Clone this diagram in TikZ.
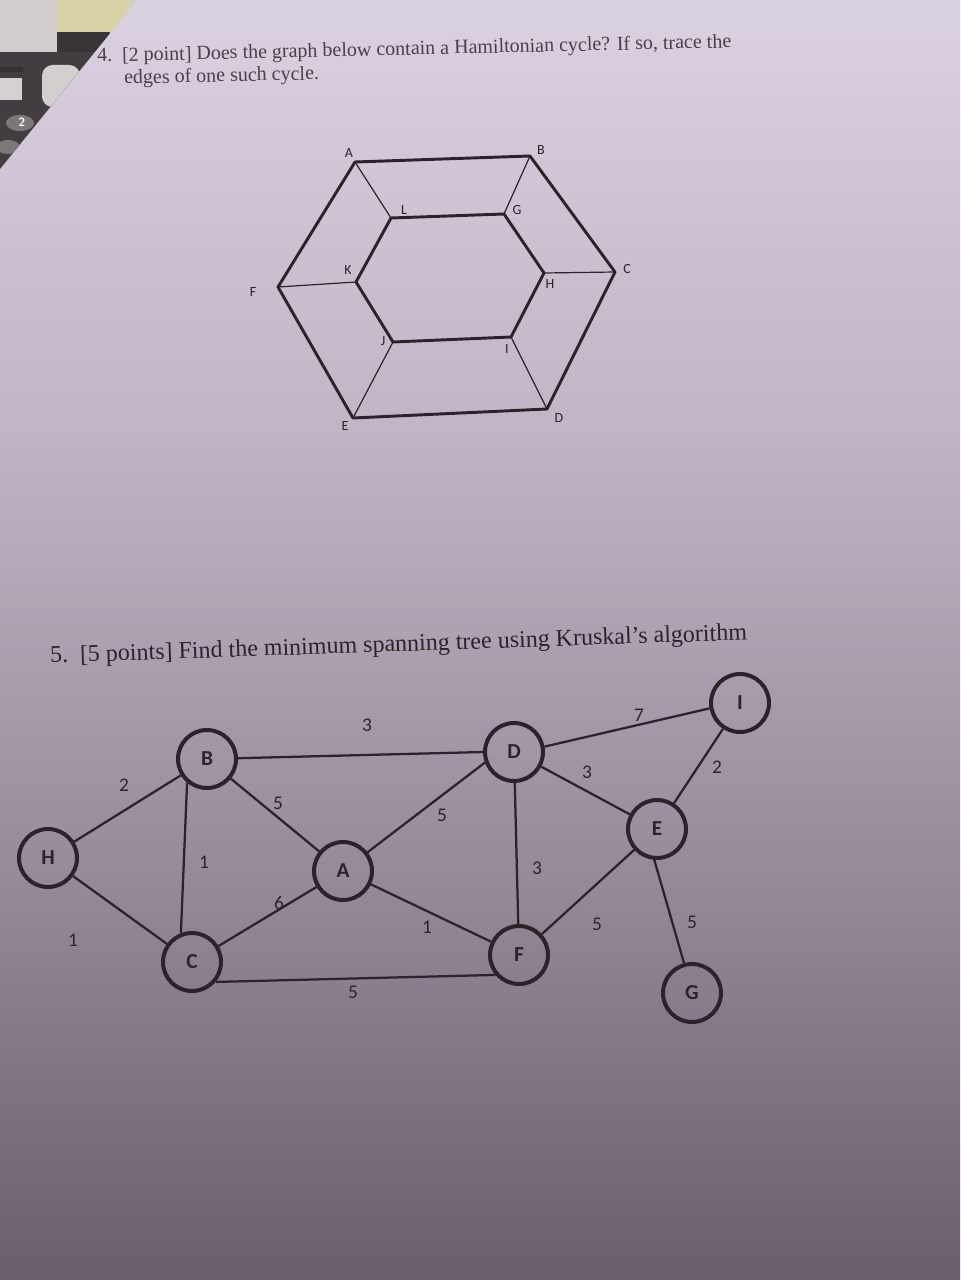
\documentclass[tikz,border=0pt]{standalone}
\usepackage{fontspec}
\setmainfont{Liberation Serif}
\newfontfamily\graphfont{Carlito}
\usetikzlibrary{positioning}
\definecolor{ink}{HTML}{2B2329}
\definecolor{greyink}{HTML}{4A4048}
\definecolor{ptop}{HTML}{DAD1E1}
\definecolor{pmid}{HTML}{C1B4C4}
\definecolor{plow}{HTML}{948897}
\definecolor{pbot}{HTML}{685E6C}
\definecolor{desk}{HTML}{D2CCCC}
\definecolor{note}{HTML}{D8D3A6}
\definecolor{calc}{HTML}{433D41}
\pgfdeclareverticalshading{paper}{100bp}{color(0bp)=(pbot); color(25bp)=(pbot); color(40bp)=(plow); color(58bp)=(pmid); color(75bp)=(ptop); color(100bp)=(ptop)}
\tikzset{
  hexedge/.style={draw=ink, line width=2.2pt, line join=round},
  spoke/.style={draw=ink, line width=0.9pt},
  hexlabel/.style={text=ink, inner sep=0.5pt, font=\graphfont\fontsize{10.5}{10.5}\selectfont},
  vert/.style={circle, draw=ink, line width=3pt, minimum size=43.5pt, inner sep=0pt, text=ink, font=\graphfont\bfseries\fontsize{16}{16}\selectfont},
  wedge/.style={draw=ink, line width=1.7pt},
  weight/.style={text=ink, inner sep=0.5pt, font=\graphfont\fontsize{14.5}{14.5}\selectfont},
}
\begin{document}
\begin{tikzpicture}[x=0.75pt,y=0.75pt,yscale=-1]
\useasboundingbox (0,0) rectangle (960,1280);

% paper
\shade[shading=paper] (0,0) rectangle (960,1280);

% desk, note and calculator behind the sheet
\begin{scope}
\clip (0,0) -- (137,0) -- (0,169) -- cycle;
\fill[desk] (0,0) rectangle (140,170);
\fill[note] (57,0) rectangle (130,32);
\fill[calc!85!black] (57,32) rectangle (110,52);
\fill[calc] (0,52) rectangle (140,170);
\fill[black!80] (0,67) rectangle (23,72);
\fill[desk!90!white] (0,78) rectangle (22,100);
\fill[desk!95!white, rounded corners=8pt] (42,65) rectangle (80,107);
\fill[calc!70!white] (20,123) ellipse (14 and 8);
\node[text=white, font=\sffamily\bfseries\small] at (22,122) {2};
\fill[calc!70!white] (8,147) ellipse (12 and 7);
\end{scope}

% question 4
\node[anchor=base west, rotate=1.3, text=greyink, inner sep=0pt, font=\fontsize{15}{18}\selectfont] (q4a) at (97,62)
  {4.\enspace [2 point] Does the graph below contain a Hamiltonian cycle? If so, trace the};
\node[anchor=base west, rotate=1.3, text=greyink, inner sep=0pt, font=\fontsize{15}{18}\selectfont] (q4b) at (124,84)
  {edges of one such cycle.};

% hexagon graph
\coordinate (A) at (355,162);
\coordinate (B) at (530,156);
\coordinate (C) at (615,272);
\coordinate (D) at (547,409);
\coordinate (E) at (353,418);
\coordinate (F) at (278,287);
\coordinate (L) at (391,218);
\coordinate (G) at (504,214);
\coordinate (H) at (544,273);
\coordinate (I) at (511,337);
\coordinate (J) at (393,342);
\coordinate (K) at (356,282);
\foreach \o/\i in {A/L,B/G,C/H,D/I,E/J,F/K}
  \draw[spoke] (\o) -- (\i);
\draw[hexedge] (A) -- (B) -- (C) -- (D) -- (E) -- (F) -- cycle;
\draw[hexedge] (L) -- (G) -- (H) -- (I) -- (J) -- (K) -- cycle;

\node[hexlabel] (lA) at (349,153) {A};
\node[hexlabel] (lB) at (541,150) {B};
\node[hexlabel] (lC) at (627,269) {C};
\node[hexlabel] (lD) at (559,418) {D};
\node[hexlabel] (lE) at (345,426) {E};
\node[hexlabel] (lF) at (253,292) {F};
\node[hexlabel] (lL) at (404,210) {L};
\node[hexlabel] (lG) at (517,210) {G};
\node[hexlabel] (lH) at (550,284) {H};
\node[hexlabel] (lI) at (507,349) {I};
\node[hexlabel] (lJ) at (383,341) {J};
\node[hexlabel] (lK) at (348,270) {K};

% question 5
\node[anchor=base west, rotate=1.9, text=ink, inner sep=0pt, font=\fontsize{18}{20}\selectfont] (q5) at (50,663)
  {5.\enspace [5 points] Find the minimum spanning tree using Kruskal’s algorithm};

% weighted graph
\node[vert] (h) at (48,858) {H};
\node[vert] (b) at (207,759) {B};
\node[vert] (c) at (192,962) {C};
\node[vert] (a) at (343,871) {A};
\node[vert] (d) at (514,752) {D};
\node[vert] (e) at (657,829) {E};
\node[vert] (f) at (519,955) {F};
\node[vert] (g) at (692,993) {G};
\node[vert] (i) at (740,703) {I};

\draw[wedge] (h) -- (b);
\draw[wedge] (h) -- (c);
\draw[wedge] (b.-130) -- (c.111);
\draw[wedge] (b) -- (a);
\draw[wedge] (b) -- (d.west);
\draw[wedge] (c) -- (a);
\draw[wedge] (c.-40) -- (f.-140);
\draw[wedge] (a) -- (d.200);
\draw[wedge] (a) -- (f);
\draw[wedge] (d) -- (f);
\draw[wedge] (d) -- (e);
\draw[wedge] (d.10) -- (i.190);
\draw[wedge] (i) -- (e);
\draw[wedge] (e) -- (f);
\draw[wedge] (e.-95) -- (g.105);

\node[weight] (whb) at (124,785) {2};
\node[weight] (whc) at (73,940) {1};
\node[weight] (wbc) at (204,862) {1};
\node[weight] (wba) at (278,803) {5};
\node[weight] (wbd) at (367,725) {3};
\node[weight] (wca) at (279,903) {6};
\node[weight] (wcf) at (353,992) {5};
\node[weight] (wad) at (442,815) {5};
\node[weight] (waf) at (427,927) {1};
\node[weight] (wdf) at (537,868) {3};
\node[weight] (wde) at (587,772) {3};
\node[weight] (wdi) at (639,715) {7};
\node[weight] (wie) at (717,767) {2};
\node[weight] (wef) at (597,924) {5};
\node[weight] (weg) at (692,922) {5};
\end{tikzpicture}
\end{document}
